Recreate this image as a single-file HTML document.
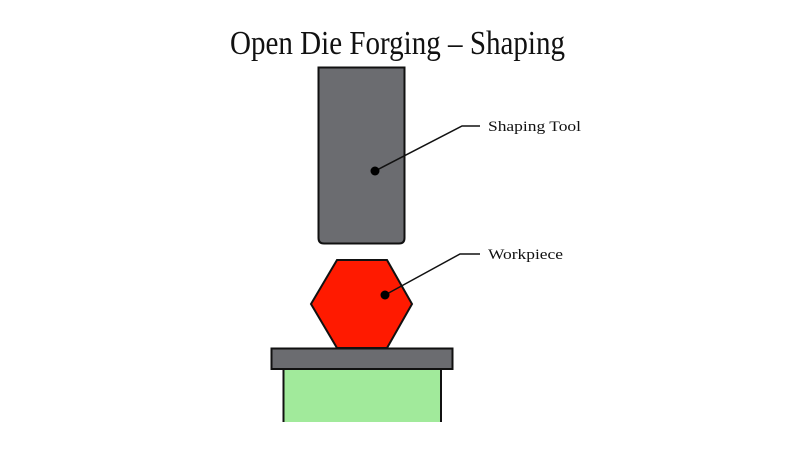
<!DOCTYPE html>
<html><head><meta charset="utf-8"><style>html,body{margin:0;padding:0;background:#fff}svg{display:block}</style></head>
<body>
<svg width="800" height="450" viewBox="0 0 800 450" xmlns="http://www.w3.org/2000/svg">
<rect width="800" height="450" fill="#fff"/>
<text x="230" y="54" font-family="Liberation Serif, serif" font-size="34" textLength="335" lengthAdjust="spacingAndGlyphs" fill="#111">Open Die Forging – Shaping</text>
<path d="M318.5 67.5 H404.5 V238 Q404.5 243.5 399 243.5 H324 Q318.5 243.5 318.5 238 Z" fill="#6b6c70" stroke="#111" stroke-width="2"/>
<polyline points="375,171 462,126 480,126" fill="none" stroke="#111" stroke-width="1.5"/>
<circle cx="375" cy="171" r="4.5" fill="#000"/>
<text x="488" y="131" font-family="Liberation Serif, serif" font-size="15" textLength="93" lengthAdjust="spacingAndGlyphs" fill="#111">Shaping Tool</text>
<polygon points="337,260 387,260 412,304 387,348 337,348 311,304" fill="#ff1a00" stroke="#111" stroke-width="2"/>
<polyline points="385,295 460,254 480,254" fill="none" stroke="#111" stroke-width="1.5"/>
<circle cx="385" cy="295" r="4.5" fill="#000"/>
<text x="488" y="259" font-family="Liberation Serif, serif" font-size="15" textLength="75" lengthAdjust="spacingAndGlyphs" fill="#111">Workpiece</text>
<path d="M283.5 422 V369 H441 V422" fill="#a1ea9b" stroke="#111" stroke-width="2"/>
<rect x="271.5" y="348.5" width="181" height="20.5" fill="#6b6c70" stroke="#111" stroke-width="2"/>
</svg>
</body></html>
